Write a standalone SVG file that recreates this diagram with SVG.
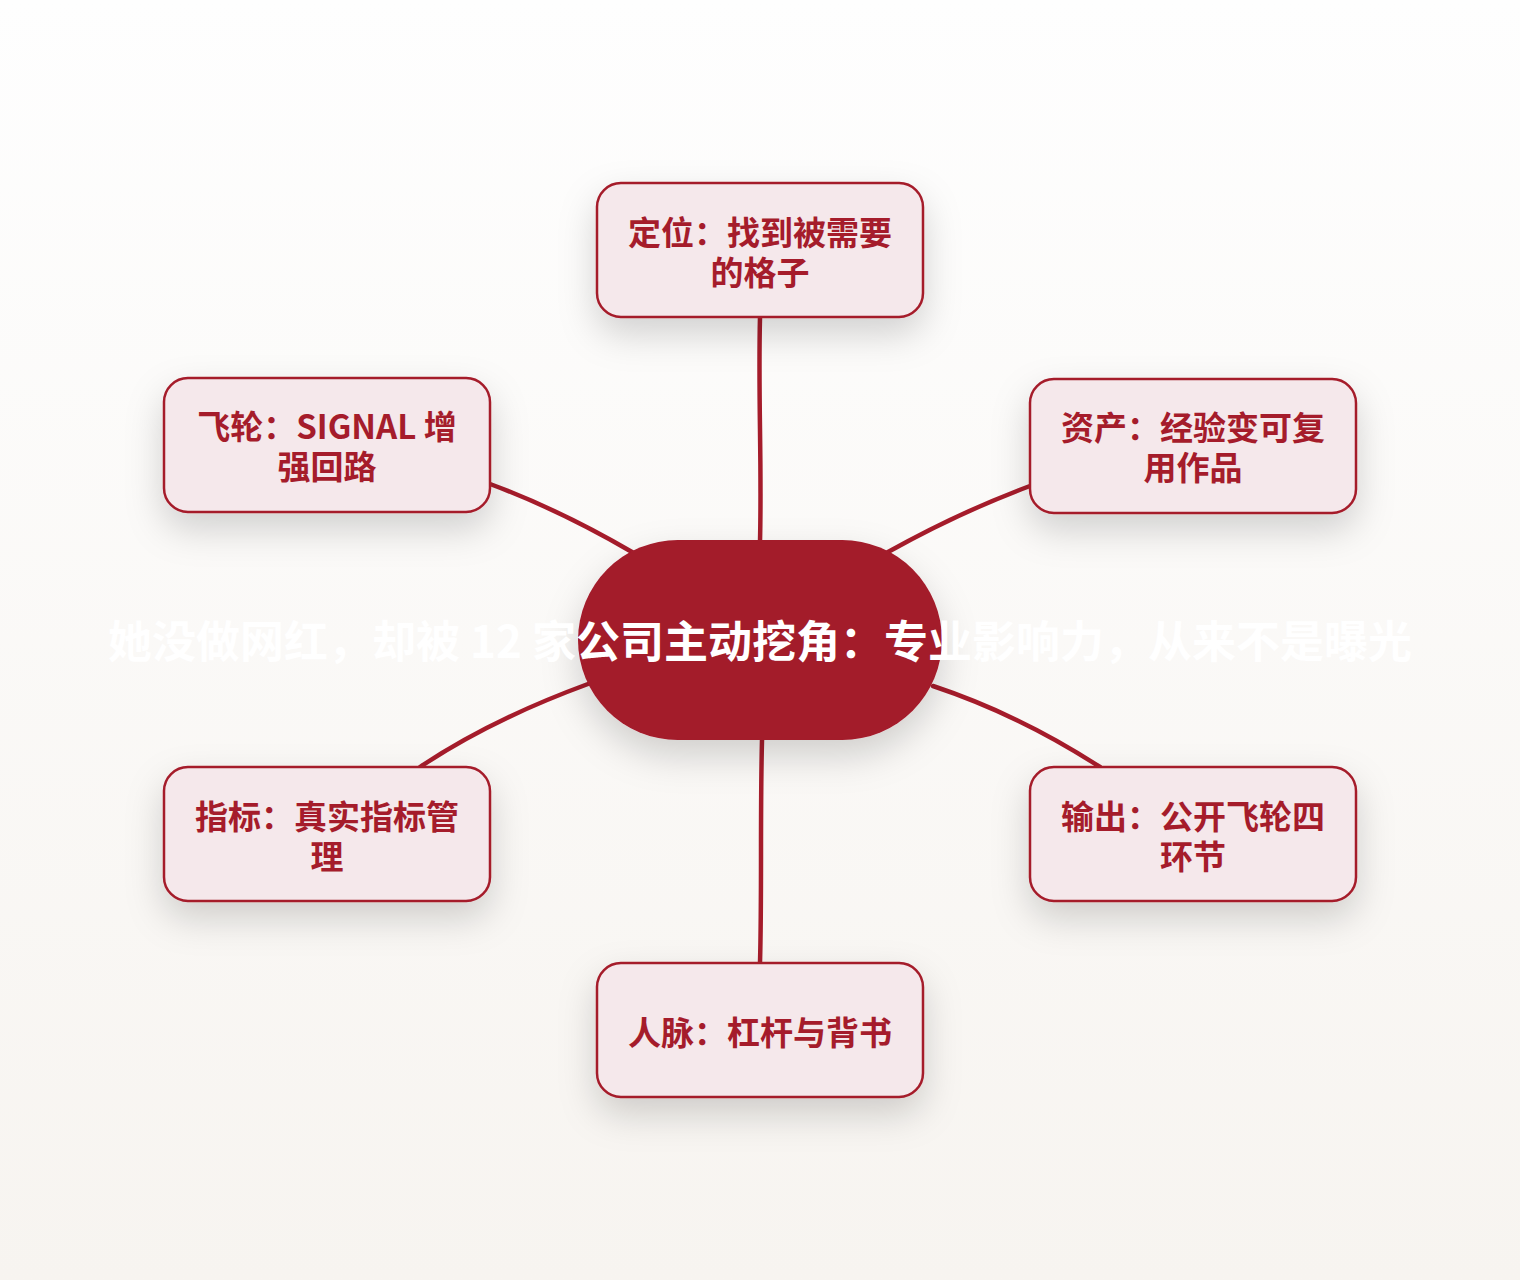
<svg xmlns="http://www.w3.org/2000/svg" width="1520" height="1280" viewBox="0 0 1520 1280">
<defs>
<linearGradient id="bg" x1="0" y1="0" x2="0" y2="1">
<stop offset="0" stop-color="#fefefe"/>
<stop offset="1" stop-color="#f7f4f0"/>
</linearGradient>
<filter id="sh" x="-40%" y="-40%" width="180%" height="200%">
<feDropShadow dx="0" dy="16" stdDeviation="18" flood-color="#000" flood-opacity="0.17"/>
</filter>
<style>
.node rect{fill:#f5e8eb;stroke:#a51c2b;stroke-width:2.5;filter:url(#sh)}
.node text{fill:#a51c2b;font-family:"Noto Sans CJK SC","Liberation Sans",sans-serif;font-weight:700;font-size:33px;text-anchor:middle}
.conn path{fill:none;stroke:#a51c2b;stroke-width:4.5;stroke-linecap:round}
.title{fill:#ffffff;font-family:"Noto Sans CJK SC","Liberation Sans",sans-serif;font-weight:700;font-size:44px;text-anchor:middle}
</style>
</defs>
<rect width="1520" height="1280" fill="url(#bg)"/>
<g id="connectors" class="conn">
<path d="M760,317 C758,400 762,460 760,542"/>
<path d="M490,484 Q560,510 632,552"/>
<path d="M1030,486 Q960,512 888,552"/>
<path d="M420,767 Q490,720 588,684"/>
<path d="M1100,767 Q1020,715 933,686"/>
<path d="M762,740 C760,820 762,890 760,963"/>
</g>
<g id="center">
<rect x="578" y="540" width="364" height="200" rx="100" fill="#a31a2a" filter="url(#sh)"/>
<text class="title" x="760" y="658">她没做网红，却被 12 家公司主动挖角：专业影响力，从来不是曝光</text>
</g>
<g id="n-top" class="node">
<rect x="597" y="183" width="326" height="134" rx="24"/>
<text x="760" y="245">定位：找到被需要</text>
<text x="760" y="285">的格子</text>
</g>
<g id="n-lu" class="node">
<rect x="164" y="378" width="326" height="134" rx="24"/>
<text x="327" y="439">飞轮：SIGNAL 增</text>
<text x="327" y="479">强回路</text>
</g>
<g id="n-ru" class="node">
<rect x="1030" y="379" width="326" height="134" rx="24"/>
<text x="1193" y="440">资产：经验变可复</text>
<text x="1193" y="480">用作品</text>
</g>
<g id="n-ll" class="node">
<rect x="164" y="767" width="326" height="134" rx="24"/>
<text x="327" y="829">指标：真实指标管</text>
<text x="327" y="869">理</text>
</g>
<g id="n-rl" class="node">
<rect x="1030" y="767" width="326" height="134" rx="24"/>
<text x="1193" y="829">输出：公开飞轮四</text>
<text x="1193" y="869">环节</text>
</g>
<g id="n-bottom" class="node">
<rect x="597" y="963" width="326" height="134" rx="24"/>
<text x="760" y="1045">人脉：杠杆与背书</text>
</g>
</svg>
